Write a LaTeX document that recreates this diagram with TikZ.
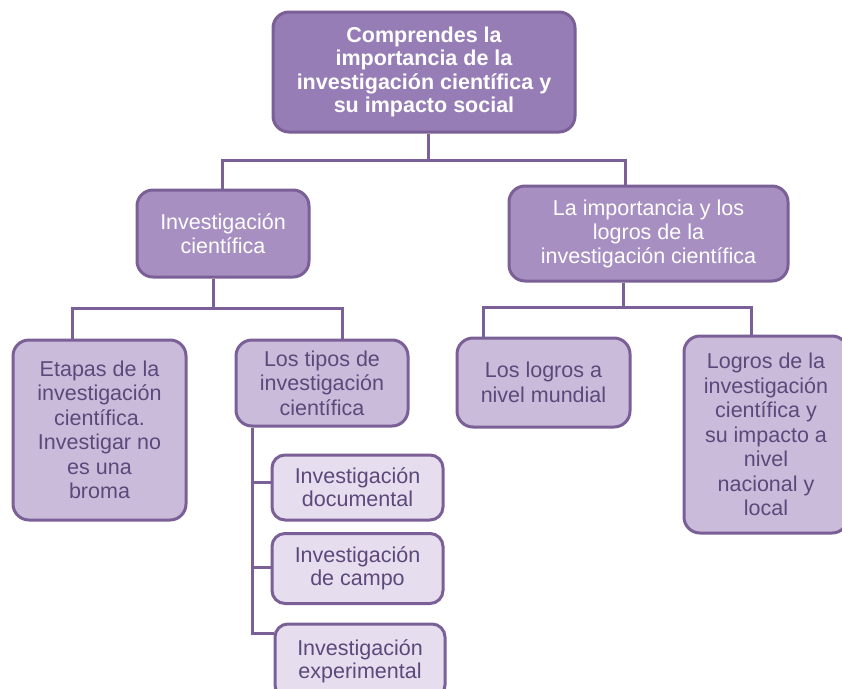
\documentclass[tikz,border=0pt]{standalone}
\usepackage{fontspec}
\setmainfont{Liberation Sans}
\definecolor{bordc}{RGB}{122,96,150}
\definecolor{topc}{RGB}{150,125,181}
\definecolor{midc}{RGB}{167,144,193}
\definecolor{lowc}{RGB}{203,187,219}
\definecolor{leafc}{RGB}{230,222,238}
\definecolor{txtc}{RGB}{92,72,122}
\tikzset{
  box/.style={draw=bordc, line width=3pt, rounded corners=16pt, align=center, inner sep=0pt,
    font=\fontsize{21.5}{24}\selectfont},
  topbox/.style={box, fill=topc, text=white, font=\bfseries\fontsize{21.5}{23.5}\selectfont},
  midbox/.style={box, fill=midc, text=white},
  lowbox/.style={box, fill=lowc, text=txtc, font=\fontsize{21.5}{24.5}\selectfont},
  leafbox/.style={box, fill=leafc, text=txtc, rounded corners=13pt, font=\fontsize{21.5}{23}\selectfont},
  conn/.style={draw=bordc, line width=3pt}
}
\begin{document}
\begin{tikzpicture}[x=1pt,y=-1pt]
\useasboundingbox[fill=white] (0,0) rectangle (842,688);

\node[topbox, minimum width=302pt, minimum height=120pt] (top) at (424,72)
  {\rule{0pt}{4pt}Comprendes la\\importancia de la\\investigación científica y\\su impacto social};
\node[midbox, minimum width=172pt, minimum height=87pt] (ic) at (223,233.5)
  {Investigación\\científica};
\node[midbox, minimum width=279pt, minimum height=95pt] (imp) at (648.5,233.5)
  {La importancia y los\\logros de la\\investigación científica};
\node[lowbox, minimum width=173pt, minimum height=180pt] (etapas) at (99.5,430)
  {Etapas de la\\investigación\\científica.\\Investigar no\\es una\\broma};
\node[lowbox, minimum width=172pt, minimum height=86pt] (tipos) at (322,383)
  {Los tipos de\\investigación\\científica};
\node[lowbox, minimum width=173pt, minimum height=89pt] (mundial) at (543.5,382.5)
  {Los logros a\\nivel mundial};
\node[lowbox, minimum width=164pt, minimum height=197pt] (logros) at (766,434.5)
  {Logros de la\\investigación\\científica y\\su impacto a\\nivel\\nacional y\\local};
\node[leafbox, minimum width=171pt, minimum height=65pt] (doc) at (357.5,487.5)
  {Investigación\\documental};
\node[leafbox, minimum width=171pt, minimum height=70pt] (campo) at (357.5,568.5)
  {Investigación\\de campo};
\node[leafbox, minimum width=170pt, minimum height=74pt] (exp) at (360,661)
  {Investigación\\experimental};

% level 1
\coordinate (j1) at (428,160);
\draw[conn] (top.south -| j1) -- (j1);
\draw[conn] (ic.north -| 222,0) |- (j1);
\draw[conn] (imp.north -| 625,0) |- (j1);
% level 2 left
\coordinate (j2) at (213,308);
\draw[conn] (ic.south -| j2) -- (j2);
\draw[conn] (etapas.north -| 72,0) |- (j2);
\draw[conn] (tipos.north -| 342,0) |- (j2);
% level 2 right
\coordinate (j3) at (623,307);
\draw[conn] (imp.south -| j3) -- (j3);
\draw[conn] (mundial.north -| 483,0) |- (j3);
\draw[conn] (logros.north -| 751,0) |- (j3);
% tipos branches
\coordinate (t) at (252,0);
\draw[conn] (tipos.south -| t) |- (exp.west |- 0,633);
\draw[conn] (doc.west |- 0,482) -- (t |- 0,482);
\draw[conn] (campo.west |- 0,567) -- (t |- 0,567);
\end{tikzpicture}
\end{document}
